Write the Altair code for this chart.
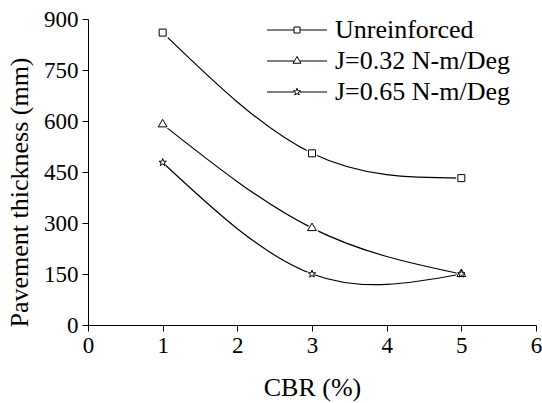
import math
import altair as alt
import pandas as pd

# ---- data ----
cbr = [1, 3, 5]
series_names = ["Unreinforced", "J=0.32 N-m/Deg", "J=0.65 N-m/Deg"]
unreinforced = [860, 505, 432]
j_032 = [590, 285, 150]
j_065 = [478, 150, 150]

# major + minor tick positions (labels only on the majors)
x_ticks = [0, 0.5, 1, 1.5, 2, 2.5, 3, 3.5, 4, 4.5, 5, 5.5, 6]
y_ticks = [0, 75, 150, 225, 300, 375, 450, 525, 600, 675, 750, 825, 900]

rows = []
for name, vals in zip(series_names, [unreinforced, j_032, j_065]):
    for x, y in zip(cbr, vals):
        rows.append({"CBR": x, "Thickness": y, "Series": name})
df = pd.DataFrame(rows)

# ---- marker shapes (SVG paths) ----
def star_path(R, r_in=0.4, prefix=""):
    pts = []
    for k in range(10):
        ang = math.radians(-90 + 36 * k)
        rad = R if k % 2 == 0 else R * r_in
        pts.append((rad * math.cos(ang), rad * math.sin(ang)))
    s = prefix + "M%.3f,%.3f" % pts[0]
    for p in pts[1:]:
        s += "L%.3f,%.3f" % p
    return s + "Z"

sq = "M-1.75,-1.75L1.75,-1.75L1.75,1.75L-1.75,1.75Z"
tri = "M0,-2.5L2.2,1.25L-2.2,1.25Z"
st = star_path(1.95)
marker_paths = [sq, tri, st]

leg_line = "M-10,0L-1,0M1,0L10,0"
leg_paths = [
    leg_line + "M-1,-1L1,-1L1,1L-1,1Z",
    leg_line + "M-1.3,0.75L0,-1.5L1.3,0.75Z",
    star_path(1.25, prefix=leg_line),
]

FONT = "Liberation Serif"
xdom = alt.Scale(domain=[0, 6], nice=False, zero=False)
ydom = alt.Scale(domain=[0, 900], nice=False, zero=False)

x_axis = alt.Axis(
    values=x_ticks, orient="bottom",
    labelExpr="datum.value % 1 === 0 ? '' + datum.value : ''",
    tickSize={"condition": {"test": "datum.value % 1 === 0", "value": 6}, "value": 3},
    tickColor="black", domainColor="black",
    labelFont=FONT, labelFontSize=23, labelColor="black",
    labelPadding=3, labelFlush=False, labelOverlap=False, grid=False,
    title="CBR (%)", titleFont=FONT, titleFontSize=26, titleFontWeight="normal",
    titleColor="black", titleX=224, titleY=70, titleBaseline="alphabetic",
    titleAlign="center")

y_axis = alt.Axis(
    values=y_ticks, orient="left",
    labelExpr="datum.value % 150 === 0 ? '' + datum.value : ''",
    tickSize={"condition": {"test": "datum.value % 150 === 0", "value": 6}, "value": 4},
    tickColor="black", domainColor="black",
    labelFont=FONT, labelFontSize=23, labelColor="black",
    labelPadding=4, labelFlush=False, labelOverlap=False, grid=False,
    title="Pavement thickness (mm)", titleFont=FONT, titleFontSize=26,
    titleFontWeight="normal", titleColor="black", titleAngle=270,
    titleX=-61, titleY=173, titleBaseline="alphabetic", titleAlign="center")

base = alt.Chart(df)

lines = base.mark_line(interpolate="natural", color="black", strokeWidth=1.2).encode(
    x=alt.X("CBR:Q", scale=xdom, axis=x_axis),
    y=alt.Y("Thickness:Q", scale=ydom, axis=y_axis),
    detail="Series:N",
)

halo = base.mark_point(filled=True, color="white", opacity=1, size=36, strokeWidth=0).encode(
    x=alt.X("CBR:Q", scale=xdom),
    y=alt.Y("Thickness:Q", scale=ydom),
    shape=alt.Shape("Series:N", scale=alt.Scale(domain=series_names, range=marker_paths),
                    legend=None),
)

markers = base.mark_point(fill="white", stroke="black", strokeWidth=1, opacity=1,
                          fillOpacity=1, size=16).encode(
    x=alt.X("CBR:Q", scale=xdom),
    y=alt.Y("Thickness:Q", scale=ydom),
    shape=alt.Shape("Series:N", scale=alt.Scale(domain=series_names, range=marker_paths),
                    legend=None),
)

legend_layer = base.mark_point(opacity=0, size=36).encode(
    x=alt.X("CBR:Q", scale=xdom),
    y=alt.Y("Thickness:Q", scale=ydom),
    shape=alt.Shape("Series:N", scale=alt.Scale(domain=series_names, range=leg_paths),
                    legend=alt.Legend(
                        title=None, orient="none", legendX=196, legendY=-2, padding=0,
                        labelFont=FONT, labelFontSize=26, labelColor="black",
                        labelLimit=400, labelOffset=25, rowPadding=5, symbolSize=36,
                        symbolStrokeColor="black", symbolStrokeWidth=1,
                        symbolFillColor="white", symbolOpacity=1)),
)

chart = alt.layer(lines, halo, markers, legend_layer).resolve_scale(
    shape="independent"
).properties(
    width=448, height=306,
    autosize=alt.AutoSizeParams(type="none"),
    padding={"left": 88, "top": 19, "right": 6, "bottom": 78},
    view=alt.ViewBackground(strokeWidth=0),
)

chart.save("out.html", embed_options={"renderer": "svg", "actions": False})
